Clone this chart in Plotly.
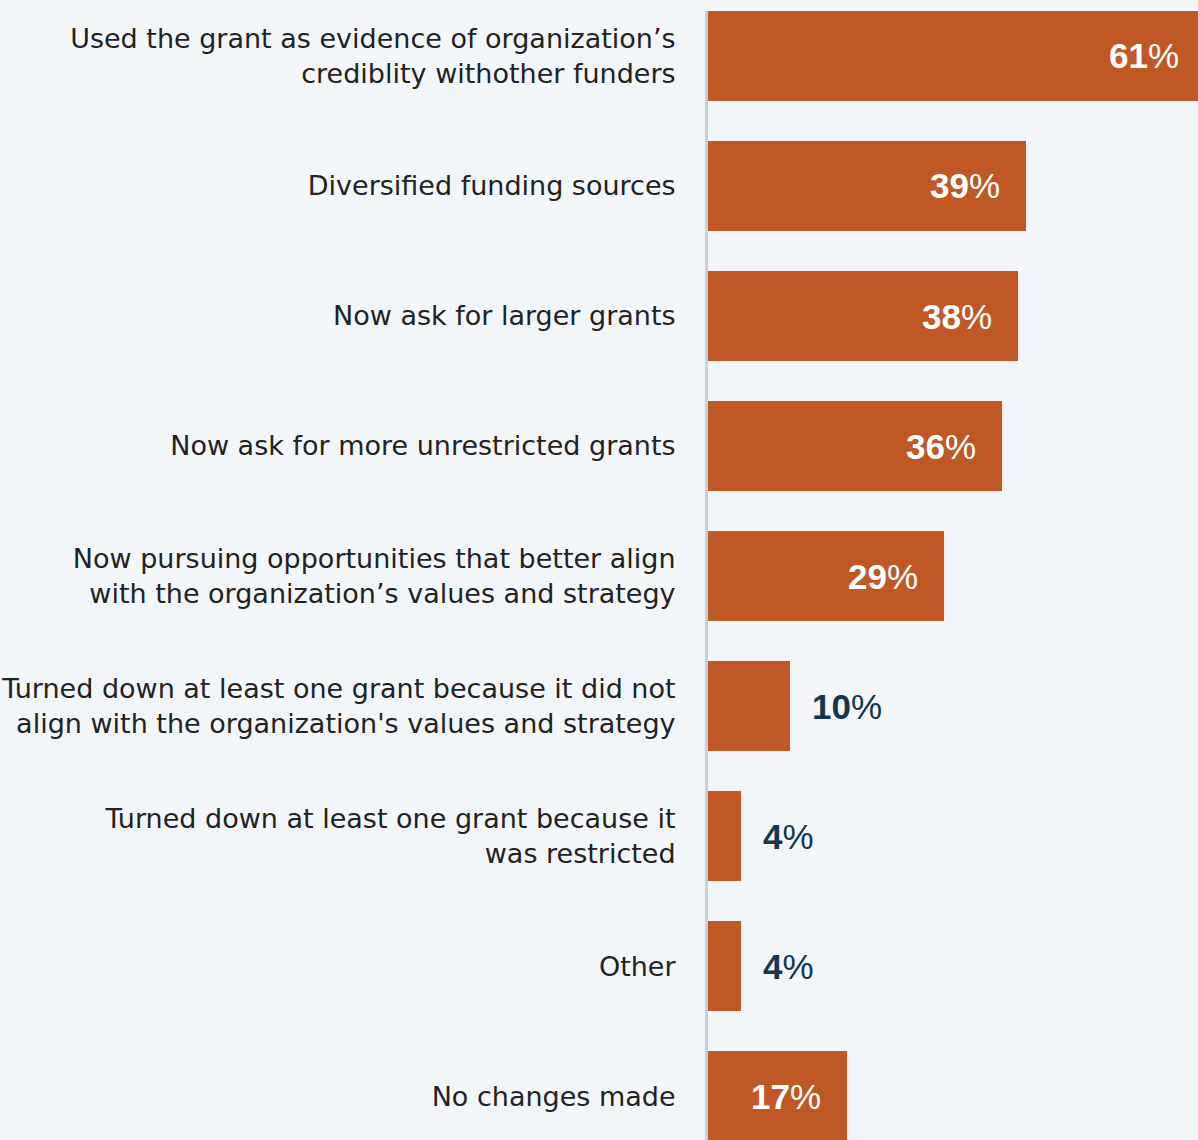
import plotly.graph_objects as go

# Survey responses: changes organizations made after receiving the grant
categories = [
    "Used the grant as evidence of organization’s<br>crediblity withother funders",
    "Diversified funding sources",
    "Now ask for larger grants",
    "Now ask for more unrestricted grants",
    "Now pursuing opportunities that better align<br>with the organization’s values and strategy",
    "Turned down at least one grant because it did not<br>align with the organization's values and strategy",
    "Turned down at least one grant because it<br>was restricted",
    "Other",
    "No changes made",
]
values = [61, 39, 38, 36, 29, 10, 4, 4, 17]

BAR_COLOR = "#c05826"
BG = "#f2f6f9"
LABEL_DARK = "#15364f"
positions = list(range(len(categories)))

FIG_W, FIG_H = 1198, 1140
MARGIN_L, MARGIN_T = 708, 11
X_MAX = 60.1  # the longest bar runs past the right edge of the plot
px_per_unit = (FIG_W - MARGIN_L) / X_MAX

fig = go.Figure(
    go.Bar(
        x=values,
        y=positions,
        orientation="h",
        width=0.692,
        marker=dict(color=BAR_COLOR, line=dict(width=0)),
        hoverinfo="skip",
    )
)

# Value labels: white inside long bars, dark navy beside short ones
for pos, val in zip(positions, values):
    inside = val >= 15
    # keep the anchor on the visible axis and shift by the overflow in pixels
    anchor = min(val, X_MAX)
    overflow = (val - anchor) * px_per_unit
    fig.add_annotation(
        x=anchor,
        y=pos,
        xref="x",
        yref="y",
        text=f"<b>{val}</b>%",
        showarrow=False,
        xanchor="right" if inside else "left",
        xshift=(overflow - 24) if inside else 20,
        font=dict(family="Liberation Sans, Arial, sans-serif", size=35,
                  color="white" if inside else LABEL_DARK),
    )

fig.update_layout(
    width=FIG_W,
    height=FIG_H,
    margin=dict(l=MARGIN_L, r=0, t=MARGIN_T, b=0, pad=0),
    paper_bgcolor=BG,
    plot_bgcolor=BG,
    showlegend=False,
    bargap=0,
    xaxis=dict(
        range=[0, X_MAX],
        visible=False,
        fixedrange=True,
    ),
    yaxis=dict(
        range=[8.338, -0.346],
        tickmode="array",
        tickvals=positions,
        ticktext=categories,
        showgrid=False,
        zeroline=False,
        showline=True,
        linecolor="#c8ced6",
        linewidth=3,
        ticks="",
        ticklabelstandoff=24,
        tickfont=dict(family="DejaVu Sans, sans-serif", size=27, color="#222222"),
        fixedrange=True,
    ),
)

fig.write_html("out.html")
